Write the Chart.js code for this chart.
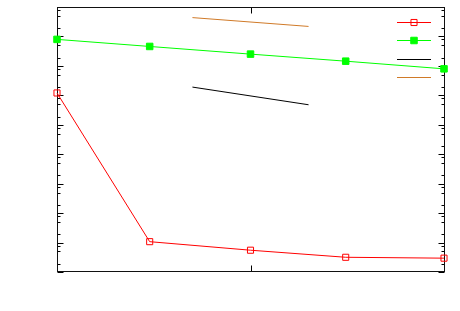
<!DOCTYPE html>
<html><head><meta charset="utf-8">
<script src="https://cdn.jsdelivr.net/npm/chart.js@4/dist/chart.umd.min.js"></script>
<style>html,body{margin:0;padding:0;background:#fff}</style>
</head><body>
<canvas id="c" width="460" height="311"></canvas>
<script>
// ---- data ----
const xValues = [0, 0.958, 2, 2.984, 4];
const seriesRed = [6.08, 1.03, 0.74, 0.50, 0.47];
const seriesGreen = [7.90, 7.66, 7.40, 7.16, 6.90];
const refBlackX = [1.40, 2.60];
const refBlackY = [6.28, 5.68];
const refOrangeX = [1.40, 2.60];
const refOrangeY = [8.64, 8.34];
const yMajorTicks = [0, 1, 2, 3, 4, 5, 6, 7, 8, 9];
const yMinorOffsets = [0.28, 0.70, 0.90];
const xMajorTicks = [0, 2, 4];

const toPts = (xs, ys) => xs.map((v, i) => ({x: v, y: ys[i]}));

const framePlugin = {
  id: 'frame',
  beforeDatasetsDraw(chart) {
    const {ctx, chartArea: a, scales} = chart;
    const xs = scales.x, ys = scales.y;
    ctx.save();
    ctx.strokeStyle = '#000';
    ctx.lineWidth = 1;
    ctx.beginPath();
    const L = a.left + 0.5, R = a.right + 0.5, T = a.top + 0.5, B = a.bottom - 0.5;
    yMajorTicks.forEach(v => {
      const p = Math.round(ys.getPixelForValue(v)) + 0.5;
      ctx.moveTo(L, p); ctx.lineTo(L + 6, p);
      ctx.moveTo(R, p); ctx.lineTo(R - 6, p);
    });
    for (let k = 0; k < yMajorTicks.length - 1; k++) {
      yMinorOffsets.forEach(o => {
        const p = Math.round(ys.getPixelForValue(yMajorTicks[k] + o)) + 0.5;
        ctx.moveTo(L, p); ctx.lineTo(L + 3, p);
        ctx.moveTo(R, p); ctx.lineTo(R - 3, p);
      });
    }
    xMajorTicks.forEach(v => {
      const p = Math.round(xs.getPixelForValue(v)) + 0.5;
      ctx.moveTo(p, B); ctx.lineTo(p, B - 6);
      ctx.moveTo(p, T); ctx.lineTo(p, T + 6);
    });
    ctx.stroke();
    ctx.strokeStyle = '#111';
    ctx.strokeRect(L, T, R - L, B - T);
    ctx.restore();
  },
  afterDatasetsDraw(chart) {
    const {ctx, chartArea: a} = chart;
    ctx.save();
    chart.data.datasets.forEach((ds, i) => {
      const y = Math.round(a.top + 15 + i * 18.3) + 0.5;
      const x1 = a.right - 47, x2 = a.right - 13;
      ctx.strokeStyle = ds.borderColor;
      ctx.lineWidth = ds.borderWidth;
      ctx.beginPath(); ctx.moveTo(x1, y); ctx.lineTo(x2, y); ctx.stroke();
      if (ds.pointRadius > 0) {
        ctx.fillStyle = ds.pointBackgroundColor;
        ctx.strokeStyle = ds.pointBorderColor;
        ctx.lineWidth = ds.pointBorderWidth;
        const s = ds.pointRadius * Math.SQRT1_2;
        ctx.beginPath();
        ctx.rect((x1 + x2) / 2 - s, y - s, 2 * s, 2 * s);
        if (ds.pointBackgroundColor !== 'rgba(0,0,0,0)') ctx.fill();
        ctx.stroke();
      }
    });
    ctx.restore();
  }
};

new Chart(document.getElementById('c'), {
  type: 'line',
  data: {
    datasets: [
      {data: toPts(xValues, seriesRed), borderColor: '#ff0000', borderWidth: 1,
       pointStyle: 'rect', pointRadius: 4.3, pointBorderWidth: 1,
       pointBackgroundColor: 'rgba(0,0,0,0)', pointBorderColor: '#ff0000', clip: false},
      {data: toPts(xValues, seriesGreen), borderColor: '#00ff00', borderWidth: 1,
       pointStyle: 'rect', pointRadius: 4.6, pointBorderWidth: 1,
       pointBackgroundColor: '#00ff00', pointBorderColor: '#00ff00', clip: false},
      {data: toPts(refBlackX, refBlackY), borderColor: '#000000', borderWidth: 1,
       pointRadius: 0, clip: false},
      {data: toPts(refOrangeX, refOrangeY), borderColor: '#d07a28', borderWidth: 1,
       pointRadius: 0, clip: false}
    ]
  },
  options: {
    responsive: false,
    devicePixelRatio: 1,
    animation: false,
    layout: {padding: {left: 57, right: 16, top: 7, bottom: 39}},
    plugins: {legend: {display: false}, tooltip: {enabled: false}},
    elements: {line: {tension: 0}},
    scales: {
      x: {type: 'linear', min: 0, max: 4, display: false},
      y: {type: 'linear', min: 0, max: 9, display: false}
    }
  },
  plugins: [framePlugin]
});
</script>
</body></html>
